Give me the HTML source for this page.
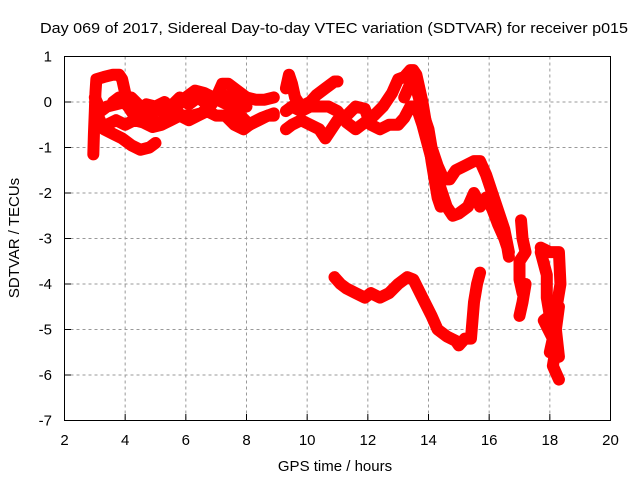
<!DOCTYPE html>
<html><head><meta charset="utf-8"><style>
body{margin:0;background:#fff}
svg text{font-family:"Liberation Sans",sans-serif;font-size:15px;fill:#000}
</style></head><body>
<svg id="c" width="640" height="480" xmlns="http://www.w3.org/2000/svg">
<text x="40" y="33" textLength="588" lengthAdjust="spacingAndGlyphs">Day 069 of 2017, Sidereal Day-to-day VTEC variation (SDTVAR) for receiver p015</text>
<text x="335" y="471" text-anchor="middle">GPS time / hours</text>
<text transform="translate(19,238) rotate(-90)" text-anchor="middle">SDTVAR / TECUs</text>
<g id="grid"></g><g id="marks"></g>
<rect x="64.5" y="56.5" width="546" height="364" fill="none" stroke="#000"/>
</svg>
<script>
const xTicks=[2,4,6,8,10,12,14,16,18,20];
const yTicks=[1,0,-1,-2,-3,-4,-5,-6,-7];
const s1=[[2.95,-1.15],[2.97,-0.7],[3.0,-0.2],[3.02,0.2],[3.05,0.5],[3.3,0.55],[3.6,0.6],[3.8,0.6],[3.9,0.5],[4.0,0.2],[4.1,-0.1],[4.3,-0.3],[4.6,-0.2],[4.9,-0.1],[5.2,-0.2],[5.5,-0.1],[5.8,0.1],[6.1,-0.05],[6.4,0.1],[6.6,0.0],[7.0,0.1],[7.2,0.4],[7.4,0.4],[7.7,0.25],[8.0,0.1],[8.3,0.05],[8.6,0.05],[8.9,0.1]];
const s2=[[3.0,0.1],[3.2,-0.2],[3.4,-0.1],[3.7,-0.05],[4.0,0.0],[4.2,0.1],[4.5,-0.1],[4.8,-0.3],[5.1,-0.5],[5.4,-0.3],[5.7,-0.1],[6.0,0.1],[6.3,0.25],[6.6,0.2],[6.9,0.1],[7.2,0.0],[7.5,-0.1],[7.8,-0.3],[8.1,-0.5],[8.4,-0.4],[8.7,-0.3],[8.9,-0.3]];
const s3=[[3.1,-0.3],[3.3,-0.6],[3.6,-0.7],[3.9,-0.8],[4.2,-0.95],[4.5,-1.05],[4.8,-1.0],[5.0,-0.9]];
const s4=[[3.1,-0.5],[3.4,-0.5],[3.7,-0.4],[4.0,-0.5],[4.3,-0.4],[4.6,-0.45],[4.9,-0.55],[5.2,-0.5],[5.5,-0.4],[5.8,-0.3],[6.1,-0.4],[6.4,-0.3],[6.7,-0.2],[7.0,-0.3],[7.3,-0.3],[7.6,-0.5],[7.9,-0.6],[8.2,-0.45],[8.5,-0.35],[8.9,-0.25]];
const s5=[[3.6,0.0],[3.8,0.1],[4.1,-0.1],[4.4,-0.2],[4.7,-0.05],[5.0,-0.1],[5.3,0.0],[5.6,-0.2],[5.9,-0.3],[6.2,-0.3],[6.5,-0.25],[6.8,-0.1],[7.1,0.2],[7.4,0.1],[7.7,0.05],[8.0,-0.1]];
const s6=[[9.3,0.3],[9.4,0.6],[9.5,0.4],[9.6,0.1],[9.8,-0.1],[10.1,0.0],[10.3,0.15],[10.6,0.3],[10.9,0.45],[11.0,0.45]];
const s7=[[9.3,-0.2],[9.5,-0.1],[9.8,-0.2],[10.1,-0.1],[10.4,-0.1],[10.7,-0.1],[11.0,-0.2],[11.3,-0.45],[11.6,-0.6],[11.9,-0.45],[12.2,-0.3],[12.5,-0.1],[12.8,0.2],[13.0,0.5],[13.2,0.55],[13.4,0.7],[13.5,0.7],[13.6,0.6],[13.7,0.3],[13.8,0.0],[13.9,-0.4],[14.0,-0.8],[14.1,-1.3],[14.2,-1.7],[14.3,-2.1],[14.4,-2.3]];
const s8=[[9.3,-0.6],[9.5,-0.5],[9.8,-0.4],[10.1,-0.5],[10.4,-0.6],[10.6,-0.8],[10.8,-0.6],[11.0,-0.4],[11.3,-0.3],[11.6,-0.1],[11.9,-0.15],[12.1,-0.5],[12.4,-0.6],[12.7,-0.5],[13.0,-0.5],[13.2,-0.35],[13.4,-0.1],[13.6,-0.1],[13.8,-0.5],[14.0,-1.0],[14.2,-1.5],[14.4,-1.9],[14.6,-2.3],[14.8,-2.5],[15.0,-2.45],[15.3,-2.3],[15.5,-2.0],[15.7,-2.3],[15.9,-2.1],[16.1,-2.35],[16.3,-2.7],[16.5,-3.0],[16.6,-3.2],[16.65,-3.4]];
const s9=[[13.2,0.1],[13.4,0.4],[13.6,0.3],[13.8,-0.2],[14.0,-0.6],[14.1,-1.0],[14.3,-1.4],[14.5,-1.7],[14.7,-1.7],[14.9,-1.5],[15.2,-1.4],[15.5,-1.3],[15.7,-1.3],[15.9,-1.6],[16.1,-2.0],[16.3,-2.4],[16.5,-2.8],[16.65,-3.3]];
const s10=[[10.9,-3.85],[11.1,-4.0],[11.3,-4.1],[11.6,-4.2],[11.9,-4.3],[12.1,-4.2],[12.4,-4.3],[12.7,-4.2],[13.0,-4.0],[13.3,-3.85],[13.5,-3.9],[13.8,-4.3],[14.1,-4.7],[14.3,-5.0],[14.6,-5.15],[14.9,-5.25],[15.0,-5.35],[15.2,-5.2],[15.4,-5.2],[15.45,-4.8],[15.5,-4.4],[15.6,-4.0],[15.7,-3.75]];
const s11=[[17.05,-2.6],[17.1,-3.0],[17.2,-3.3],[17.0,-3.5],[17.0,-3.9],[17.1,-4.2],[17.2,-4.0],[17.1,-4.4],[17.0,-4.7]];
const s12=[[17.7,-3.2],[18.0,-3.3],[18.3,-3.3],[18.35,-4.0],[18.2,-4.6],[18.3,-4.5],[18.2,-5.0],[18.3,-5.6]];
const s13=[[17.7,-3.3],[17.9,-3.8],[17.9,-4.3],[18.0,-4.7],[17.8,-4.8],[18.1,-5.2],[18.0,-5.5],[18.2,-5.4],[18.1,-5.8],[18.3,-6.1]];
const series=[s1,s2,s3,s4,s5,s6,s7,s8,s9,s10,s11,s12,s13];
const NS="http://www.w3.org/2000/svg";
const X=v=>64.5+(v-2)*546/18, Y=v=>56.5+(1-v)*364/8;
const grid=document.getElementById('grid'), marks=document.getElementById('marks');
function mk(t,a,p){const e=document.createElementNS(NS,t);for(const k in a)e.setAttribute(k,a[k]);p.appendChild(e);return e;}
xTicks.forEach(t=>{
 if(t>2&&t<20){const l=mk('line',{x1:X(t),x2:X(t),y1:56.5,y2:420.5,stroke:'#999','stroke-dasharray':'3,3'},grid);
 
 }
 const tk=mk('line',{x1:X(t),x2:X(t),y1:420.5,y2:414,stroke:'#000'},grid);
 
 
 const tx=mk('text',{x:X(t),y:445,'text-anchor':'middle'},grid);tx.textContent=t;
 
 
});
yTicks.forEach(t=>{
 if(t<1&&t>-7){const l=mk('line',{x1:64.5,x2:610.5,y1:Y(t),y2:Y(t),stroke:'#999','stroke-dasharray':'3,3'},grid);
 
 }
 const tk=mk('line',{x1:64.5,x2:71,y1:Y(t),y2:Y(t),stroke:'#000'},grid);
 
 
 const tx=mk('text',{x:52,y:Y(t)+5,'text-anchor':'end'},grid);tx.textContent=t;
 
 
});
series.forEach((s,i)=>{
 const g=mk('g',{},marks);
 
 
 const pl=mk('polyline',{points:s.map(p=>X(p[0])+','+Y(p[1])).join(' '),fill:'none',stroke:'#f00','stroke-width':12,'stroke-linejoin':'round','stroke-linecap':'round'},g);
 
 
 s.forEach(p=>{
  const x=X(p[0]),y=Y(p[1]);
  const m=mk('path',{d:`M${x-5},${y}h10M${x},${y-5}v10`,stroke:'#f00','stroke-width':1.5},g);
  
  
 });
});
</script>
</body></html>
